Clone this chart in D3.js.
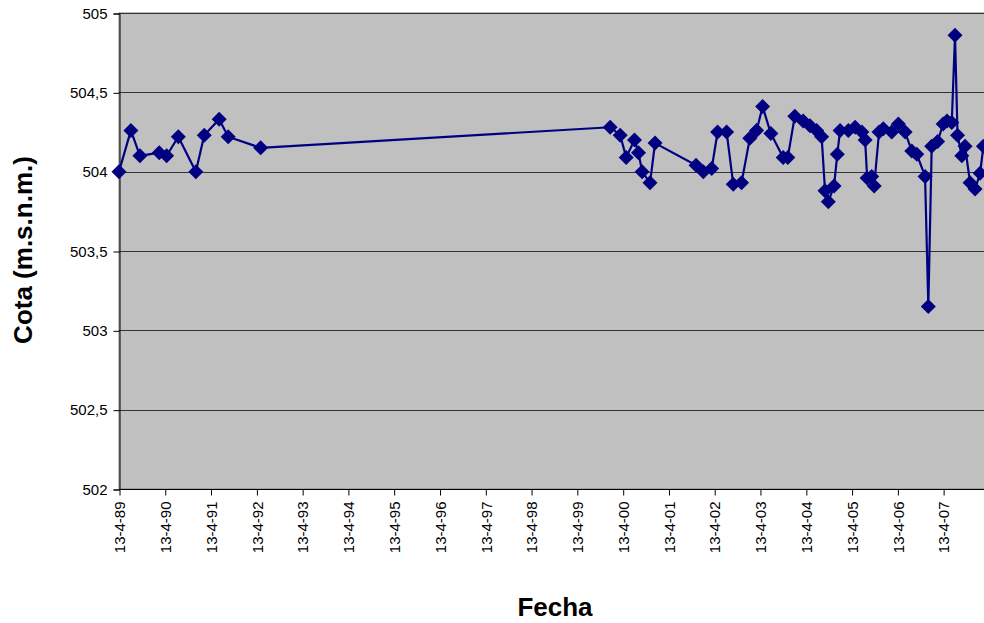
<!DOCTYPE html>
<html>
<head>
<meta charset="utf-8">
<script src="https://cdn.jsdelivr.net/npm/d3@7"></script>
<style>
  html, body { margin: 0; padding: 0; background: #fff; overflow: hidden; }
  svg { display: block; }
  text { font-family: "Liberation Sans", Arial, sans-serif; }
</style>
</head>
<body>
<svg id="chart" width="984" height="623"></svg>
<script>
// ---- Data ----
const dates = [
  "1989-04-13","1989-07-17","1989-09-27","1990-02-28","1990-04-28","1990-07-30",
  "1990-12-17","1991-02-22","1991-06-21","1991-09-01","1992-05-17",
  "2000-01-04","2000-03-24","2000-05-11","2000-07-16","2000-08-17","2000-09-15",
  "2000-11-17","2000-12-27","2001-11-19","2002-01-16","2002-03-24","2002-05-10",
  "2002-07-21","2002-09-12","2002-11-17","2003-01-22","2003-03-17","2003-05-04",
  "2003-07-09","2003-10-15","2003-11-21","2004-01-16","2004-03-23","2004-05-16",
  "2004-07-08","2004-08-17","2004-09-13","2004-10-09","2004-11-24","2004-12-20",
  "2005-01-11","2005-03-18","2005-05-11","2005-07-04","2005-07-30","2005-08-15",
  "2005-09-20","2005-10-10","2005-11-18","2005-12-22","2006-02-27","2006-04-21",
  "2006-06-14","2006-08-06","2006-09-15","2006-11-20","2006-12-16","2007-01-12",
  "2007-02-28","2007-04-13","2007-05-14","2007-06-21","2007-07-17","2007-08-06",
  "2007-09-09","2007-10-05","2007-11-14","2007-12-24","2008-02-02","2008-02-28"
];
const cota = [
  504.00,504.26,504.10,504.12,504.10,504.22,
  504.00,504.23,504.33,504.22,504.15,
  504.28,504.23,504.09,504.20,504.12,504.00,
  503.93,504.18,504.04,504.00,504.02,504.25,
  504.25,503.92,503.93,504.21,504.26,504.41,
  504.24,504.09,504.09,504.35,504.32,504.29,
  504.26,504.22,503.88,503.81,503.91,504.11,
  504.26,504.26,504.28,504.25,504.20,503.96,
  503.97,503.91,504.25,504.27,504.25,504.30,
  504.25,504.13,504.11,503.97,503.15,504.16,
  504.19,504.30,504.32,504.31,504.86,504.23,
  504.10,504.16,503.93,503.89,503.99,504.16
];
const tickYears = [1989,1990,1991,1992,1993,1994,1995,1996,1997,1998,1999,2000,2001,2002,2003,2004,2005,2006,2007];
const yTicks = [502, 502.5, 503, 503.5, 504, 504.5, 505];
const xTitle = "Fecha";
const yTitle = "Cota (m.s.n.m.)";

// ---- Layout ----
const svg = d3.select("#chart");
const pLeft = 119, pTop = 13, pBottom = 489, pRight = 990;
const parse = d3.timeParse("%Y-%m-%d");

const x = d3.scaleTime()
  .domain([parse("1989-04-13"), parse("2008-04-13")])
  .range([pLeft, 989]);
const y = d3.scaleLinear().domain([502, 505]).range([pBottom, pTop]);

// plot background
svg.append("rect")
  .attr("x", pLeft).attr("y", pTop)
  .attr("width", pRight - pLeft).attr("height", pBottom - pTop)
  .attr("fill", "#C0C0C0").attr("stroke", "#808080").attr("stroke-width", 1);

// grid lines
svg.append("g").selectAll("line")
  .data(yTicks.filter(v => v > 502))
  .join("line")
  .attr("x1", pLeft).attr("x2", pRight)
  .attr("y1", d => Math.round(y(d)) + 0.5).attr("y2", d => Math.round(y(d)) + 0.5)
  .attr("stroke", "#333").attr("stroke-width", 1);

// y axis
const fmtY = v => String(v).replace(".", ",");
const yAxis = svg.append("g")
  .attr("transform", `translate(${pLeft + 0.5},0.5)`)
  .call(d3.axisLeft(y).tickValues(yTicks).tickFormat(fmtY).tickSizeOuter(0).tickSize(6).tickPadding(6));
yAxis.select(".domain").attr("stroke", "#000");
yAxis.selectAll(".tick line").attr("stroke", "#000");
yAxis.selectAll("text").attr("font-size", 15).attr("fill", "#000")
  .attr("font-family", "Liberation Sans, Arial, sans-serif");

// x axis
const tickDates = tickYears.map(yr => new Date(yr, 3, 13));
const fmtX = d3.timeFormat("%-d-%-m-%y");
const xAxis = svg.append("g")
  .attr("transform", `translate(0.5,${pBottom + 0.5})`)
  .call(d3.axisBottom(x).tickValues(tickDates).tickFormat(fmtX).tickSizeOuter(0).tickSize(6));
xAxis.select(".domain").attr("stroke", "#000").attr("d", `M${pLeft},0H${pRight}`);
xAxis.selectAll(".tick line").attr("stroke", "#000");
xAxis.selectAll("text")
  .attr("font-size", 15).attr("fill", "#000")
  .attr("font-family", "Liberation Sans, Arial, sans-serif")
  .attr("text-anchor", "end")
  .attr("transform", "translate(0,12) rotate(-90)")
  .attr("x", 0).attr("y", 0).attr("dy", "0.35em");

// data
const data = dates.map((d, i) => ({ date: parse(d), value: cota[i] }));

const line = d3.line().x(d => x(d.date)).y(d => y(d.value));
svg.append("path")
  .datum(data)
  .attr("d", line)
  .attr("fill", "none")
  .attr("stroke", "#000080")
  .attr("stroke-width", 2.2)
  .attr("stroke-linejoin", "round");

const r = 7.5;
svg.append("g").selectAll("path")
  .data(data)
  .join("path")
  .attr("transform", d => `translate(${x(d.date)},${y(d.value)})`)
  .attr("d", `M0,${-r}L${r},0L0,${r}L${-r},0Z`)
  .attr("fill", "#000080");

// titles
svg.append("text")
  .attr("transform", `translate(32,250) rotate(-90)`)
  .attr("text-anchor", "middle")
  .attr("font-size", 26).attr("font-weight", "bold").attr("fill", "#000")
  .text(yTitle);

svg.append("text")
  .attr("x", 555).attr("y", 616)
  .attr("text-anchor", "middle")
  .attr("font-size", 26).attr("font-weight", "bold").attr("fill", "#000")
  .text(xTitle);
</script>
</body>
</html>
